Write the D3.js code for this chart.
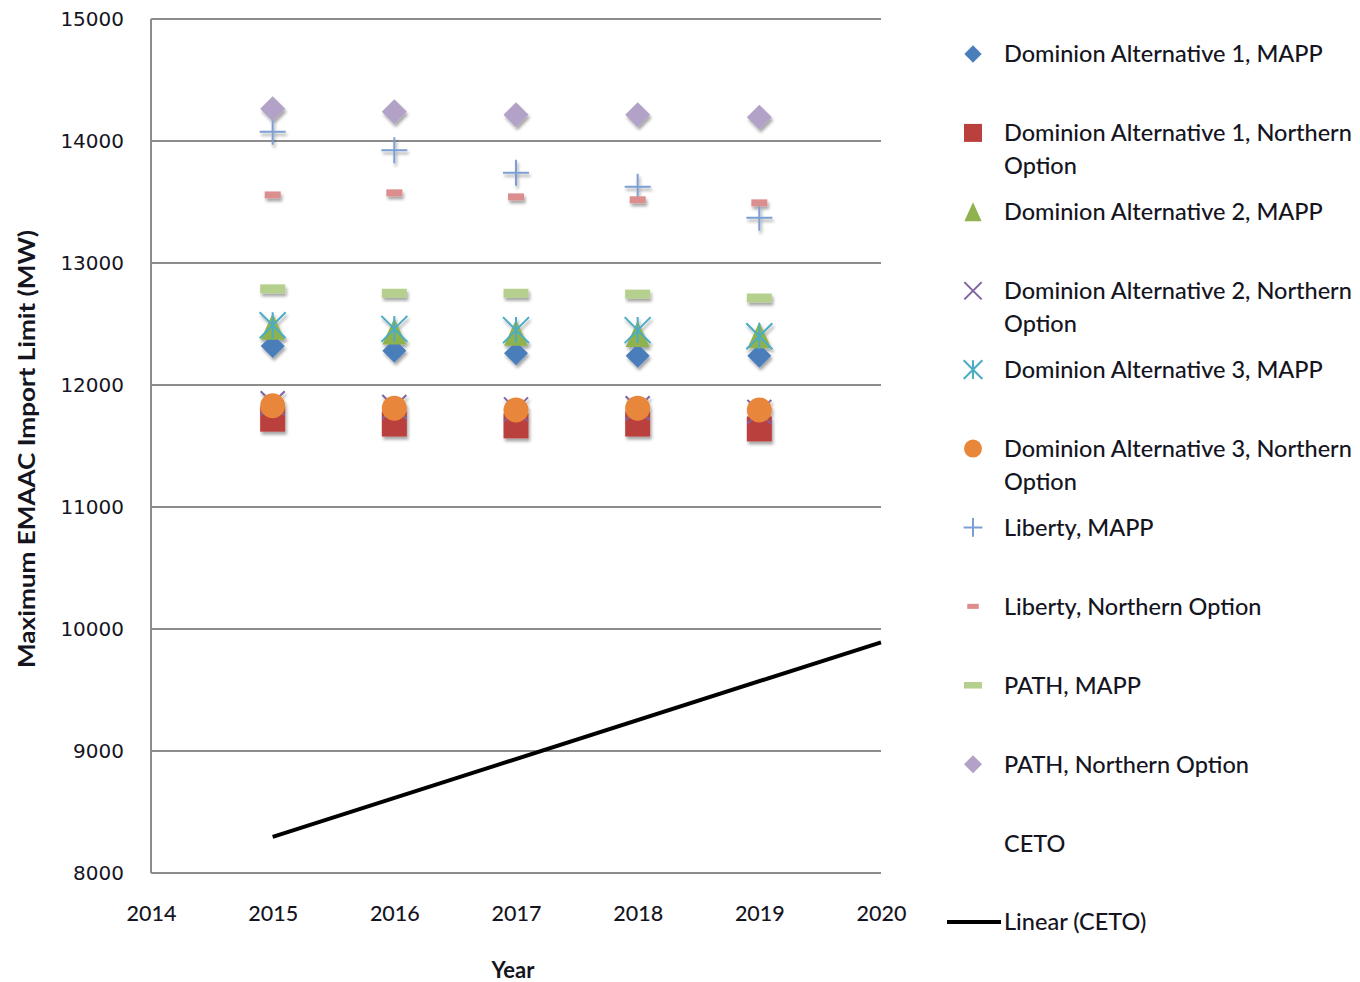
<!DOCTYPE html>
<html>
<head>
<meta charset="utf-8">
<script src="https://cdn.jsdelivr.net/npm/d3@7"></script>
<style>
  body { margin: 0; background: #fff; }
  text { font-family: Lato, "Open Sans", sans-serif; fill: #15151f; }
</style>
</head>
<body>
<svg id="chart" width="1360" height="982"></svg>
<script>
// Study years and axis ticks
const years = [2015, 2016, 2017, 2018, 2019];
const xTicks = [2014, 2015, 2016, 2017, 2018, 2019, 2020];
const yTicks = [8000, 9000, 10000, 11000, 12000, 13000, 14000, 15000];

// Maximum EMAAC import limit (MW) per project / option
const dom1Mapp  = [12320, 12280, 12260, 12240, 12240];
const dom1North = [11720, 11680, 11665, 11680, 11640];
const dom2Mapp  = [12480, 12440, 12430, 12420, 12410];
const dom2North = [11850, 11820, 11800, 11810, 11780];
const dom3Mapp  = [12490, 12460, 12450, 12450, 12400];
const dom3North = [11830, 11810, 11795, 11810, 11795];
const libMapp   = [14075, 13925, 13740, 13625, 13370];
const libNorth  = [13558, 13575, 13542, 13518, 13493];
const pathMapp  = [12788, 12752, 12752, 12745, 12713];
const pathNorth = [14265, 14240, 14215, 14215, 14195];
const ceto      = [8300, 8600, 8950, 9250, 9570];

const seriesNames = [
  "Dominion Alternative 1, MAPP",
  "Dominion Alternative 1, Northern Option",
  "Dominion Alternative 2, MAPP",
  "Dominion Alternative 2, Northern Option",
  "Dominion Alternative 3, MAPP",
  "Dominion Alternative 3, Northern Option",
  "Liberty, MAPP",
  "Liberty, Northern Option",
  "PATH, MAPP",
  "PATH, Northern Option",
  "CETO"
];
const trendName = "Linear (CETO)";

const seriesValues = [dom1Mapp, dom1North, dom2Mapp, dom2North, dom3Mapp, dom3North,
                      libMapp, libNorth, pathMapp, pathNorth, ceto];

// Marker styles, in series order
const markerStyles = [
  { shape: "diamond",  color: "#4a7ebb", size: 24 },
  { shape: "square",   color: "#b9403d", size: 25 },
  { shape: "triangle", color: "#8fb24f", size: 24 },
  { shape: "x",        color: "#8064a2", size: 24 },
  { shape: "asterisk", color: "#4bacc6", size: 26 },
  { shape: "circle",   color: "#e8873a", size: 25 },
  { shape: "plus",     color: "#7b9ed3", size: 26 },
  { shape: "dashS",    color: "#dc8e8e", size: 16 },
  { shape: "dashL",    color: "#b5cf8c", size: 25 },
  { shape: "diamond",  color: "#b2a2c7", size: 25 },
  { shape: "none",     color: "#fff",    size: 0 }
];

const svg = d3.select("#chart");
const plot = { left: 151, right: 881, top: 19, bottom: 873 };

const x = d3.scaleLinear().domain([2014, 2020]).range([plot.left, plot.right]);
const y = d3.scaleLinear().domain([8000, 15000]).range([plot.bottom, plot.top]);

// Soft shadow under markers
const defs = svg.append("defs");
const shadow = defs.append("filter").attr("id", "shadow")
  .attr("x", "-50%").attr("y", "-50%").attr("width", "200%").attr("height", "200%");
shadow.append("feDropShadow").attr("dx", 1.5).attr("dy", 3).attr("stdDeviation", 1.8)
  .attr("flood-color", "#000").attr("flood-opacity", 0.35);

// Gridlines
svg.append("g")
  .selectAll("line").data(yTicks).join("line")
  .attr("x1", plot.left).attr("x2", plot.right)
  .attr("y1", d => y(d)).attr("y2", d => y(d))
  .attr("stroke", "#8c8c8c").attr("stroke-width", 2);

// Left axis line
svg.append("line")
  .attr("x1", plot.left).attr("x2", plot.left)
  .attr("y1", plot.top).attr("y2", plot.bottom)
  .attr("stroke", "#8c8c8c").attr("stroke-width", 2);

// Y axis tick labels
const yAxis = d3.axisLeft(y).tickValues(yTicks).tickSize(0).tickPadding(27).tickFormat(d3.format("d"));
const gy = svg.append("g").attr("transform", `translate(${plot.left},0)`).call(yAxis);
gy.select(".domain").remove();
gy.selectAll("text")
  .style("font-family", "Verdana, 'DejaVu Sans', sans-serif")
  .style("font-size", "20px").style("fill", "#15151f");

// X axis tick labels
const xAxis = d3.axisBottom(x).tickValues(xTicks).tickSize(0).tickPadding(33).tickFormat(d3.format("d"));
const gx = svg.append("g").attr("transform", `translate(0,${plot.bottom})`).call(xAxis);
gx.select(".domain").remove();
gx.selectAll("text")
  .style("font-family", "Lato, sans-serif")
  .style("font-size", "21.5px").style("font-weight", "500").style("fill", "#15151f");

// Axis titles
svg.append("text")
  .attr("x", 513).attr("y", 978)
  .attr("text-anchor", "middle")
  .style("font-size", "22px").style("font-weight", "bold")
  .text("Year");

svg.append("text")
  .attr("transform", "translate(35,449) rotate(-90)")
  .attr("text-anchor", "middle")
  .attr("textLength", 438).attr("lengthAdjust", "spacingAndGlyphs")
  .style("font-size", "23px").style("font-weight", "bold")
  .text("Maximum EMAAC Import Limit (MW)");

// Marker drawing helper
function drawMarker(g, style, scale) {
  const s = style.size * scale, h = s / 2;
  switch (style.shape) {
    case "diamond":
      g.append("path").attr("d", `M0,${-h}L${h},0L0,${h}L${-h},0Z`).attr("fill", style.color); break;
    case "square":
      g.append("rect").attr("x", -h).attr("y", -h).attr("width", s).attr("height", s).attr("fill", style.color); break;
    case "triangle": {
      const th = s * 1.1;
      g.append("path").attr("d", `M0,${-th / 2}L${h},${th / 2}L${-h},${th / 2}Z`).attr("fill", style.color); break;
    }
    case "x":
      g.append("path").attr("d", `M${-h},${-h}L${h},${h}M${h},${-h}L${-h},${h}`)
        .attr("stroke", style.color).attr("stroke-width", 2).attr("fill", "none"); break;
    case "asterisk":
      g.append("path").attr("d", `M${-h},${-h}L${h},${h}M${h},${-h}L${-h},${h}M0,${-h}L0,${h}`)
        .attr("stroke", style.color).attr("stroke-width", 2).attr("fill", "none"); break;
    case "circle":
      g.append("circle").attr("r", h).attr("fill", style.color); break;
    case "plus":
      g.append("path").attr("d", `M${-h},0L${h},0M0,${-h}L0,${h}`)
        .attr("stroke", style.color).attr("stroke-width", 2).attr("fill", "none"); break;
    case "dashS":
      g.append("rect").attr("x", -h).attr("y", -3.5 * scale).attr("width", s).attr("height", 7 * scale).attr("fill", style.color); break;
    case "dashL":
      g.append("rect").attr("x", -h).attr("y", -4.5 * scale).attr("width", s).attr("height", 9 * scale).attr("fill", style.color); break;
  }
}

// Scatter series
const markersLayer = svg.append("g").attr("filter", "url(#shadow)");
seriesValues.forEach((vals, i) => {
  const style = markerStyles[i];
  if (style.shape === "none") return;
  vals.forEach((v, j) => {
    const g = markersLayer.append("g").attr("transform", `translate(${x(years[j])},${y(v)})`);
    drawMarker(g, style, 1);
  });
});

// Linear trendline for CETO, least squares, forecast one year forward
const xm = d3.mean(years), ym = d3.mean(ceto);
const slope = d3.sum(years, (yr, k) => (yr - xm) * (ceto[k] - ym)) / d3.sum(years, yr => (yr - xm) ** 2);
const trend = yr => ym + slope * (yr - xm);
const trendYears = [years[0], 2020];
svg.append("path")
  .datum(trendYears)
  .attr("d", d3.line().x(d => x(d)).y(d => y(trend(d))))
  .attr("stroke", "#000").attr("stroke-width", 4).attr("fill", "none");

// Legend
const legend = svg.append("g");
const legendTextX = 1004, legendMarkX = 973;
const legendRows = d3.scaleLinear().domain([0, 11]).range([54, 922]);
const maxLabelWidth = 362;
const entries = seriesNames.map((name, i) => ({ name, style: markerStyles[i] }))
  .concat([{ name: trendName, style: { shape: "line" } }]);

entries.forEach((e, i) => {
  const cy = legendRows(i);
  const mg = legend.append("g").attr("transform", `translate(${legendMarkX},${cy})`);
  if (e.style.shape === "line") {
    legend.append("line").attr("x1", 947).attr("x2", 1001).attr("y1", cy).attr("y2", cy)
      .attr("stroke", "#000").attr("stroke-width", 4);
  } else {
    drawMarker(mg, e.style, 0.72);
  }
  // Greedy word wrap
  const t = legend.append("text").attr("x", legendTextX).attr("y", cy)
    .style("font-size", "23.5px").style("font-weight", "500");
  const words = e.name.split(" ");
  let line = [];
  let tspan = t.append("tspan").attr("x", legendTextX).attr("dy", "0.36em");
  words.forEach(w => {
    line.push(w);
    tspan.text(line.join(" "));
    if (tspan.node().getComputedTextLength() > maxLabelWidth && line.length > 1) {
      line.pop();
      tspan.text(line.join(" "));
      line = [w];
      tspan = t.append("tspan").attr("x", legendTextX).attr("dy", "33px").text(w);
    }
  });
});
</script>
</body>
</html>
